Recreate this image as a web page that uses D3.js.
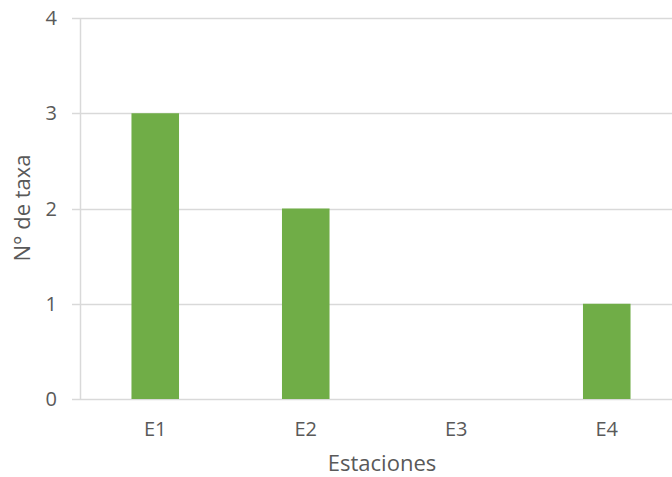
<!DOCTYPE html>
<html>
<head>
<meta charset="utf-8">
<script src="https://cdn.jsdelivr.net/npm/d3@7"></script>
<style>
  html, body { margin: 0; padding: 0; background: #fff; }
  svg { display: block; font-family: "Open Sans", "Noto Sans", sans-serif; }
</style>
</head>
<body>
<svg id="chart" width="672" height="477"></svg>
<script>
// Número de taxa por estación
const categories = ["E1", "E2", "E3", "E4"];
const values = [3, 2, 0, 1];
const yTicks = [0, 1, 2, 3, 4];

const svg = d3.select("#chart");
const textColor = "#595959";
const gridColor = "#d9d9d9";
const barColor = "#70ad47";

const plot = { left: 80, right: 682, top: 18, bottom: 399 };

const x = d3.scaleBand()
  .domain(categories)
  .range([plot.left, plot.right])
  .paddingInner(0.684)
  .paddingOuter(0.342);

const y = d3.scaleLinear()
  .domain([0, 4])
  .range([plot.bottom, plot.top]);

// horizontal gridlines, extending slightly left of the axis as tick marks
svg.append("g")
  .selectAll("line")
  .data(yTicks)
  .join("line")
  .attr("x1", plot.left - 8)
  .attr("x2", plot.right)
  .attr("y1", d => Math.round(y(d)) + 0.5)
  .attr("y2", d => Math.round(y(d)) + 0.5)
  .attr("stroke", gridColor)
  .attr("stroke-width", 1.5);

// vertical axis line
svg.append("line")
  .attr("x1", plot.left + 0.5)
  .attr("x2", plot.left + 0.5)
  .attr("y1", plot.top)
  .attr("y2", plot.bottom)
  .attr("stroke", gridColor)
  .attr("stroke-width", 1.5);

// bars
svg.append("g")
  .selectAll("rect")
  .data(categories.map((c, i) => ({ c, v: values[i] })).filter(d => d.v > 0))
  .join("rect")
  .attr("x", d => x(d.c))
  .attr("width", x.bandwidth())
  .attr("y", d => y(d.v))
  .attr("height", d => y(0) - y(d.v))
  .attr("fill", barColor);

// y tick labels
svg.append("g")
  .selectAll("text")
  .data(yTicks)
  .join("text")
  .attr("x", 57)
  .attr("y", d => y(d))
  .attr("dy", "0.36em")
  .attr("text-anchor", "end")
  .attr("fill", textColor)
  .attr("font-size", 20)
  .text(d => d);

// x tick labels
svg.append("g")
  .selectAll("text")
  .data(categories)
  .join("text")
  .attr("x", d => x(d) + x.bandwidth() / 2)
  .attr("y", 429)
  .attr("dy", "0.36em")
  .attr("text-anchor", "middle")
  .attr("fill", textColor)
  .attr("font-size", 20)
  .text(d => d);

// axis titles
svg.append("text")
  .attr("x", 382)
  .attr("y", 471)
  .attr("text-anchor", "middle")
  .attr("fill", textColor)
  .attr("font-size", 22)
  .text("Estaciones");

svg.append("text")
  .attr("transform", "translate(30,208) rotate(-90)")
  .attr("text-anchor", "middle")
  .attr("fill", textColor)
  .attr("font-size", 22)
  .text("N° de taxa");
</script>
</body>
</html>
